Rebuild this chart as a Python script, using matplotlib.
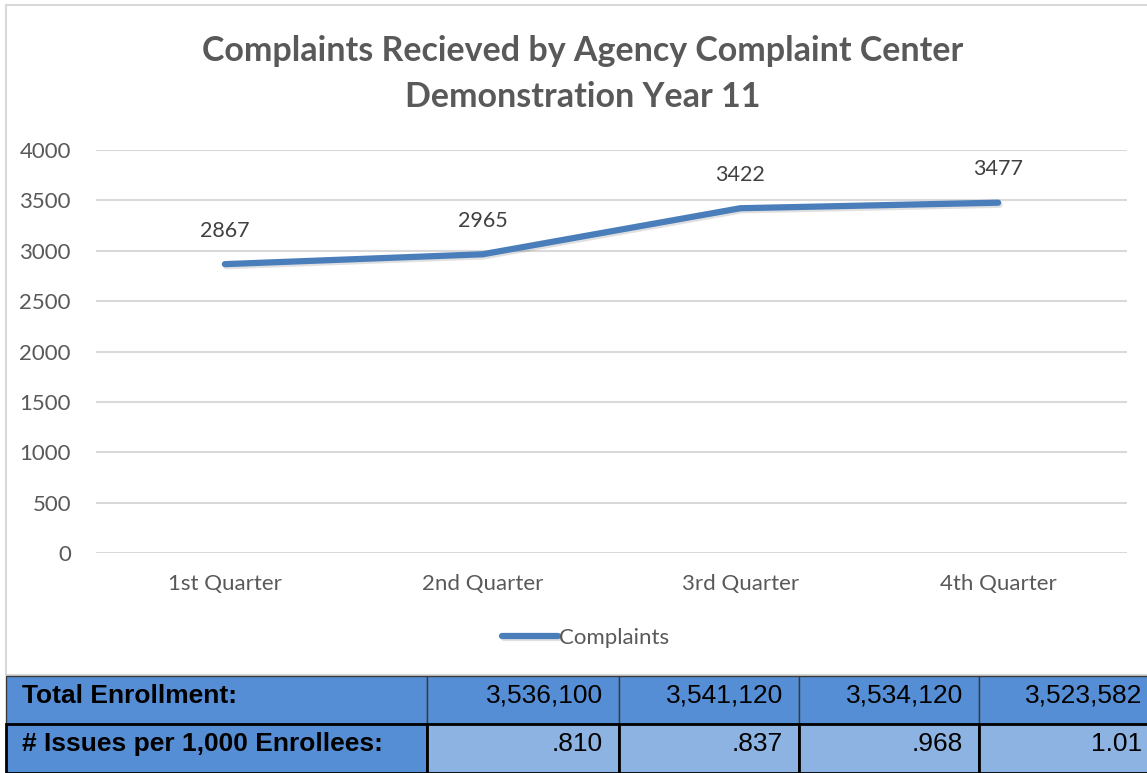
import matplotlib
matplotlib.use("Agg")
import matplotlib.pyplot as plt
import matplotlib.patheffects as pe
from matplotlib.patches import Rectangle
import numpy as np

# donnees du graphique
quarters = ["1st Quarter", "2nd Quarter", "3rd Quarter", "4th Quarter"]
complaints = [2867, 2965, 3422, 3477]
y_ticks = [0, 500, 1000, 1500, 2000, 2500, 3000, 3500, 4000]

# donnees du tableau
row_labels = ["Total Enrollment:", "# Issues per 1,000 Enrollees:"]
enrollment = ["3,536,100", "3,541,120", "3,534,120", "3,523,582"]
issues_rate = [".810", ".837", ".968", "1.01"]

W, H = 1147, 773
fig = plt.figure(figsize=(W / 100, H / 100), dpi=100)

gray_txt = "#595959"
line_col = "#4a7ebb"
font_main = ["Lato", "DejaVu Sans"]
font_tab = ["Liberation Sans", "DejaVu Sans"]

# fond: cadre du graphique + tableau (coordonnees en pixels)
bg = fig.add_axes([0, 0, 1, 1])
bg.set_xlim(0, W)
bg.set_ylim(H, 0)
bg.axis("off")
bg.add_patch(Rectangle((6, 5), W + 20, 670, facecolor="white", edgecolor="#d9d9d9", lw=1.5))

# tableau
col_edges = [6, 427, 619, 799, 979, W + 10]
row_edges = [676, 724, 773]
rows = [enrollment, issues_rate]
for r, (label, vals) in enumerate(zip(row_labels, rows)):
    y0, y1 = row_edges[r], row_edges[r + 1]
    edge = "#3a3a3a" if r == 0 else "black"
    lw = 1.0 if r == 0 else 2.0
    bg.add_patch(Rectangle((col_edges[0], y0), col_edges[1] - col_edges[0], y1 - y0,
                           facecolor="#558ed5", edgecolor=edge, lw=lw))
    bg.text(col_edges[0] + 16, y0 + 20, label, fontsize=19, fontweight="bold",
            family=font_tab, ha="left", va="center", color="black")
    for c, v in enumerate(vals):
        xa, xb = col_edges[c + 1], col_edges[c + 2]
        fc = "#558ed5" if r == 0 else "#8db3e2"
        bg.add_patch(Rectangle((xa, y0), xb - xa, y1 - y0, facecolor=fc, edgecolor=edge, lw=lw))
        bg.text(xb - 16 if xb < W else W - 5, y0 + 20, v, fontsize=19,
                family=font_tab, ha="right", va="center", color="black")

# axe principal
left, right, top, bottom = 96, 1127, 150, 553
ax = fig.add_axes([left / W, (H - bottom) / H, (right - left) / W, (bottom - top) / H])
ax.patch.set_alpha(0)
x = np.arange(len(quarters))
ax.plot(x, complaints, color=line_col, lw=4.5, solid_capstyle="round", label="Complaints",
        path_effects=[pe.SimpleLineShadow(offset=(1, -1.5), alpha=0.12), pe.Normal()])
for xi, v in zip(x, complaints):
    ax.annotate(str(v), (xi, v), xytext=(0, 24), textcoords="offset points",
                ha="center", va="center", fontsize=15.5, color="#404040", family=font_main)

ax.set_xlim(-0.5, len(quarters) - 0.5)
ax.set_ylim(0, 4000)
ax.set_yticks(y_ticks)
ax.set_xticks(x)
ax.set_xticklabels(quarters)
ax.yaxis.grid(True, color="#d9d9d9", lw=1.5)
ax.set_axisbelow(True)
for s in ax.spines.values():
    s.set_visible(False)
ax.tick_params(length=0, labelsize=16, labelcolor=gray_txt)
ax.tick_params(axis="y", pad=18)
ax.tick_params(axis="x", pad=15)
for lab in ax.get_xticklabels() + ax.get_yticklabels():
    lab.set_family(font_main)

leg = ax.legend(loc="center", bbox_to_anchor=(0.475, -0.21), frameon=False,
                prop={"family": font_main, "size": 16}, handlelength=2.5, handletextpad=0.05)
for t in leg.get_texts():
    t.set_color(gray_txt)

# titre
fig.text(583 / W, (H - 51) / H, "Complaints Recieved by Agency Complaint Center",
         ha="center", va="center", fontsize=24.5, fontweight="bold", color=gray_txt, family=font_main)
fig.text(583 / W, (H - 97) / H, "Demonstration Year 11",
         ha="center", va="center", fontsize=24.5, fontweight="bold", color=gray_txt, family=font_main)

fig.savefig("out.png", dpi=100)
